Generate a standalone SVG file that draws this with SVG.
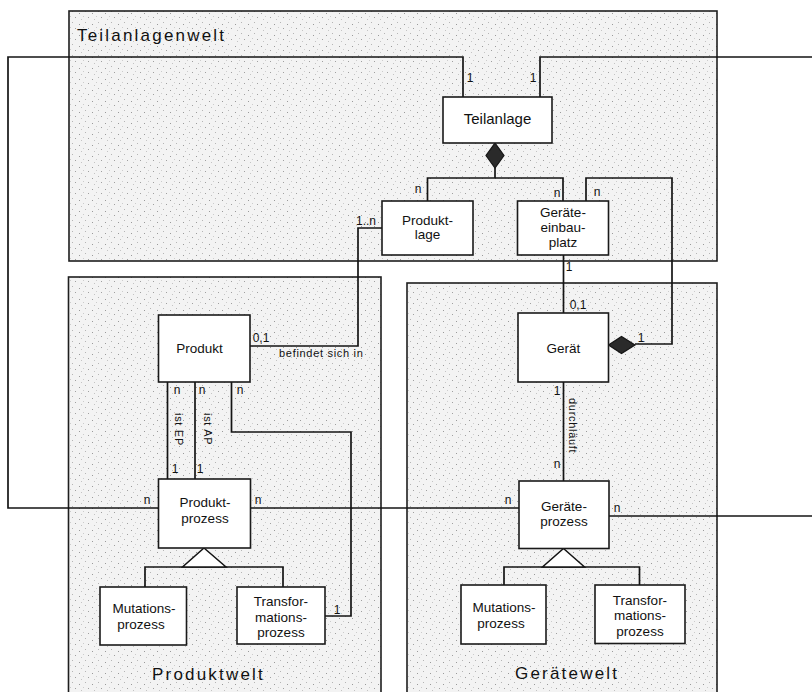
<svg xmlns="http://www.w3.org/2000/svg" width="812" height="692" viewBox="0 0 812 692">
  <defs>
    <!-- fine grey stipple used as the fill of the three "world" frames -->
    <pattern id="stipple" width="13" height="11" patternUnits="userSpaceOnUse">
      <rect width="13" height="11" fill="#f3f3f3"/>
      <rect x="1" y="2" width="1" height="1" fill="#9a9a9a"/>
      <rect x="7" y="0" width="1" height="1" fill="#b5b5b5"/>
      <rect x="10" y="6" width="1" height="1" fill="#a0a0a0"/>
      <rect x="3" y="8" width="1" height="1" fill="#c4c4c4"/>
      <rect x="5" y="5" width="1" height="1" fill="#cccccc"/>
    </pattern>
  </defs>
  <style>
    .frame { fill: url(#stipple); stroke: #1e1e1e; stroke-width: 1.6; }
    .box { fill: #ffffff; stroke: #1a1a1a; stroke-width: 1.6; }
    .line { fill: none; stroke: #141414; stroke-width: 1.7; }
    .tri { fill: #ffffff; stroke: #141414; stroke-width: 1.5; }
    .dia { fill: #2a2a2a; stroke: #141414; stroke-width: 1.2; }
    text { font-family: "Liberation Sans", Arial, sans-serif; fill: #111; }
    .title { font-size: 17px; letter-spacing: 2.2px; }
    .name { font-size: 13.5px; text-anchor: middle; }
    .mult { font-size: 12px; text-anchor: middle; }
    .lbl { font-size: 11px; letter-spacing: 0.7px; }
  </style>

  <rect width="812" height="692" fill="#ffffff"/>

  <!-- world frames -->
  <g id="teilanlagenwelt">
    <rect class="frame" x="69" y="11" width="648" height="250"/>
    <text class="title" x="77" y="41">Teilanlagenwelt</text>
  </g>
  <g id="produktwelt">
    <rect class="frame" x="68.5" y="277" width="312.5" height="430"/>
    <text class="title" x="152" y="680">Produktwelt</text>
  </g>
  <g id="geraetewelt">
    <rect class="frame" x="407" y="283" width="310" height="430"/>
    <text class="title" x="515" y="679">Gerätewelt</text>
  </g>

  <!-- connectors -->
  <g id="connectors">
    <!-- Teilanlage to Produktprozess (outer loop, left) -->
    <polyline class="line" points="463,97 463,57 8,57 8,508 158,508"/>
    <!-- Teilanlage, outer loop to the right -->
    <polyline class="line" points="540,97 540,57 812,57"/>
    <!-- composition Teilanlage : Produktlage / Geräteeinbauplatz -->
    <line class="line" x1="495" y1="168" x2="495" y2="178"/>
    <polyline class="line" points="427.5,201 427.5,178 563,178 563,201"/>
    <polygon class="dia" points="495,143 504,155.5 495,168 486,155.5"/>
    <!-- Produktlage befindet sich in Produkt -->
    <polyline class="line" points="382,228 358,228 358,346 250,346"/>
    <!-- Geräteeinbauplatz to Gerät -->
    <line class="line" x1="563.5" y1="255" x2="563.5" y2="313"/>
    <!-- composition Gerät : Geräteeinbauplatz -->
    <polyline class="line" points="586,201 586,178 672,178 672,344 635,344"/>
    <polygon class="dia" points="608.5,345 621.5,336.5 635,345 621.5,353.5"/>
    <!-- Gerät durchläuft Geräteprozess -->
    <line class="line" x1="563.5" y1="382" x2="563.5" y2="481"/>
    <!-- Produkt to Produktprozess (ist EP, ist AP) -->
    <line class="line" x1="167.5" y1="382" x2="167.5" y2="479"/>
    <line class="line" x1="195" y1="382" x2="195" y2="479"/>
    <!-- Produkt to Transformationsprozess -->
    <polyline class="line" points="231.5,382 231.5,432 351,432 351,616 325,616"/>
    <!-- Produktprozess to Geräteprozess -->
    <line class="line" x1="251" y1="508" x2="519" y2="508"/>
    <!-- Geräteprozess, outer loop to the right -->
    <line class="line" x1="609" y1="516" x2="812" y2="516"/>
    <!-- specialisation of Produktprozess -->
    <polyline class="line" points="145,587 145,567 283,567 283,587"/>
    <polygon class="tri" points="204,548 226,567 182.5,567"/>
    <!-- specialisation of Geräteprozess -->
    <polyline class="line" points="504,585 504,567 639.5,567 639.5,585"/>
    <polygon class="tri" points="563.5,548.5 584.5,567 542.5,567"/>
  </g>

  <!-- nodes -->
  <g id="teilanlage">
    <rect class="box" x="443" y="97" width="109" height="46"/>
    <text class="name" x="497.5" y="124" style="font-size:15px">Teilanlage</text>
  </g>
  <g id="produktlage">
    <rect class="box" x="382" y="201" width="91" height="54"/>
    <text class="name" x="427.5" y="225">Produkt-</text>
    <text class="name" x="427.5" y="239">lage</text>
  </g>
  <g id="geraeteeinbauplatz">
    <rect class="box" x="517.5" y="201" width="91" height="54"/>
    <text class="name" x="563" y="217">Geräte-</text>
    <text class="name" x="563" y="232">einbau-</text>
    <text class="name" x="563" y="247">platz</text>
  </g>
  <g id="produkt">
    <rect class="box" x="158.5" y="315" width="91.5" height="67"/>
    <text class="name" x="199.5" y="353">Produkt</text>
  </g>
  <g id="geraet">
    <rect class="box" x="518" y="313" width="90.5" height="69"/>
    <text class="name" x="563.5" y="353">Gerät</text>
  </g>
  <g id="produktprozess">
    <rect class="box" x="158.5" y="479" width="92" height="69"/>
    <text class="name" x="205" y="507">Produkt-</text>
    <text class="name" x="205" y="523">prozess</text>
  </g>
  <g id="geraeteprozess">
    <rect class="box" x="519" y="481" width="90" height="67.5"/>
    <text class="name" x="564" y="511">Geräte-</text>
    <text class="name" x="564" y="526">prozess</text>
  </g>
  <g id="mutationsprozess-produkt">
    <rect class="box" x="100" y="587" width="86.5" height="58"/>
    <text class="name" x="144" y="613">Mutations-</text>
    <text class="name" x="141" y="629">prozess</text>
  </g>
  <g id="transformationsprozess-produkt">
    <rect class="box" x="237" y="587" width="88" height="57"/>
    <text class="name" x="281" y="606">Transfor-</text>
    <text class="name" x="281" y="621.5">mations-</text>
    <text class="name" x="281" y="636.5">prozess</text>
  </g>
  <g id="mutationsprozess-geraet">
    <rect class="box" x="461" y="585" width="85" height="59"/>
    <text class="name" x="504" y="612">Mutations-</text>
    <text class="name" x="501" y="627.5">prozess</text>
  </g>
  <g id="transformationsprozess-geraet">
    <rect class="box" x="595" y="585" width="90" height="58.5"/>
    <text class="name" x="640" y="605">Transfor-</text>
    <text class="name" x="640" y="620">mations-</text>
    <text class="name" x="640" y="635.5">prozess</text>
  </g>

  <!-- multiplicities and role labels -->
  <g id="labels">
    <text class="mult" x="470" y="82">1</text>
    <text class="mult" x="533" y="82">1</text>
    <text class="mult" x="418" y="193">n</text>
    <text class="mult" x="557" y="197">n</text>
    <text class="mult" x="597" y="196">n</text>
    <text class="mult" x="366" y="225">1..n</text>
    <text class="mult" x="569" y="271">1</text>
    <text class="mult" x="578" y="309">0,1</text>
    <text class="mult" x="641" y="342">1</text>
    <text class="mult" x="557" y="395">1</text>
    <text class="mult" x="557" y="468">n</text>
    <text class="mult" x="508" y="504">n</text>
    <text class="mult" x="617" y="512">n</text>
    <text class="mult" x="261" y="342">0,1</text>
    <text class="lbl" x="279" y="357">befindet sich in</text>
    <text class="mult" x="177" y="394">n</text>
    <text class="mult" x="202" y="394">n</text>
    <text class="mult" x="240" y="394">n</text>
    <text class="mult" x="175" y="473">1</text>
    <text class="mult" x="200" y="473">1</text>
    <text class="mult" x="147" y="504">n</text>
    <text class="mult" x="258" y="504">n</text>
    <text class="mult" x="337" y="614">1</text>
    <text class="lbl" x="175" y="413" transform="rotate(90 175 413)">ist EP</text>
    <text class="lbl" x="204" y="413" transform="rotate(90 204 413)">ist AP</text>
    <text class="lbl" x="569" y="398" transform="rotate(90 569 398)">durchläuft</text>
  </g>
</svg>
